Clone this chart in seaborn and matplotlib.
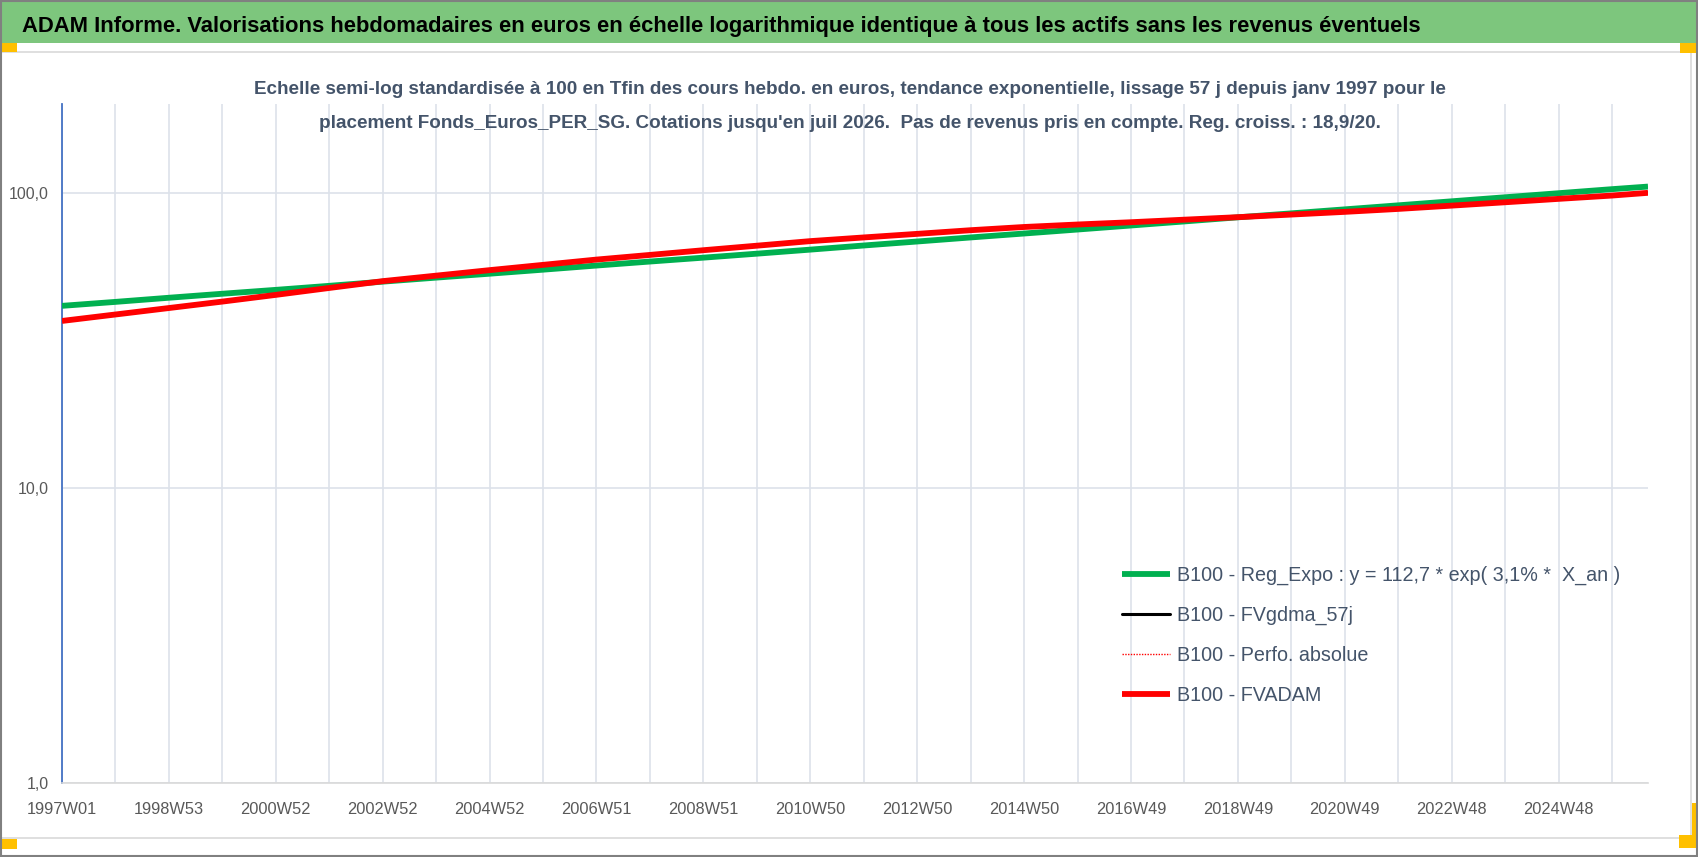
import matplotlib
matplotlib.use("Agg")
import matplotlib.pyplot as plt
import seaborn as sns
import pandas as pd
from matplotlib.patches import Rectangle
from matplotlib.lines import Line2D
from matplotlib.ticker import FixedLocator, FixedFormatter, NullFormatter

# ---------------- data ----------------
weeks = list(range(0, 1509, 52)) + [1543]          # weeks since 1997W01 (yearly samples + last quote)
reg_expo = [41.4, 42.7, 44.1, 45.5, 46.9, 48.4, 50.0, 51.6, 53.2, 54.9, 56.7, 58.5,
            60.3, 62.2, 64.2, 66.3, 68.4, 70.6, 72.8, 75.1, 77.5, 80.0, 82.6, 85.2,
            87.9, 90.7, 93.6, 96.6, 99.7, 102.9, 105.0]
fvadam = [36.8, 38.7, 40.7, 42.8, 45.1, 47.6, 50.2, 52.4, 54.7, 57.0, 59.4, 61.6,
          63.9, 66.2, 68.6, 70.6, 72.6, 74.7, 76.6, 78.1, 79.5, 81.1, 82.7, 84.4,
          86.2, 88.2, 90.5, 92.9, 95.4, 97.9, 100.0]
fvgdma_57j = [36.8, 38.7, 40.7, 42.8, 45.1, 47.6, 50.2, 52.4, 54.7, 57.0, 59.4, 61.6,
              63.9, 66.2, 68.6, 70.6, 72.6, 74.7, 76.6, 78.1, 79.5, 81.1, 82.7, 84.4,
              86.2, 88.2, 90.5, 92.9, 95.4, 97.9, 100.0]
perfo_absolue = [36.8, 38.7, 40.7, 42.8, 45.1, 47.6, 50.2, 52.4, 54.7, 57.0, 59.4, 61.6,
                 63.9, 66.2, 68.6, 70.6, 72.6, 74.7, 76.6, 78.1, 79.5, 81.1, 82.7, 84.4,
                 86.2, 88.2, 90.5, 92.9, 95.4, 97.9, 100.0]

series_names = ["B100 - Reg_Expo : y = 112,7 * exp( 3,1% *  X_an )",
                "B100 - FVgdma_57j",
                "B100 - Perfo. absolue",
                "B100 - FVADAM"]

tick_weeks = [0, 104, 208, 312, 416, 520, 624, 728, 832, 936, 1040, 1144, 1248, 1352, 1456]
tick_labels = ["1997W01", "1998W53", "2000W52", "2002W52", "2004W52", "2006W51", "2008W51",
               "2010W50", "2012W50", "2014W50", "2016W49", "2018W49", "2020W49", "2022W48",
               "2024W48"]
grid_weeks = list(range(52, 1509, 104))
y_ticks = [1, 10, 100]
y_labels = ["1,0", "10,0", "100,0"]

title = ("ADAM Informe. Valorisations hebdomadaires en euros en échelle logarithmique "
         "identique à tous les actifs sans les revenus éventuels")
subtitle1 = ("Echelle semi-log standardisée à 100 en Tfin des cours hebdo. en euros, tendance "
             "exponentielle, lissage 57 j depuis janv 1997 pour le")
subtitle2 = ("placement Fonds_Euros_PER_SG. Cotations jusqu'en juil 2026.  Pas de revenus pris "
             "en compte. Reg. croiss. : 18,9/20.")

df = pd.DataFrame({"week": weeks, "reg": reg_expo, "fvadam": fvadam,
                   "fvgdma": fvgdma_57j, "perfo": perfo_absolue})

# ---------------- style ----------------
sns.set_theme(style="white")
plt.rcParams["font.family"] = ["Liberation Sans", "DejaVu Sans"]

W, H = 1698, 857
fig = plt.figure(figsize=(W / 100, H / 100), dpi=100)
fig.patch.set_facecolor("white")

# decorations (chart frame like the Excel export)
fig.add_artist(Rectangle((0, 1 - 43 / H), 1, 43 / H, transform=fig.transFigure,
                         facecolor="#7DC67D", edgecolor="none", zorder=0))
fig.add_artist(Line2D([0, 1691 / W], [1 - 51.5 / H] * 2, transform=fig.transFigure,
                      color="#D9D9D9", lw=1.2))
fig.add_artist(Line2D([0, 1691 / W], [1 - 838 / H] * 2, transform=fig.transFigure,
                      color="#D9D9D9", lw=1.2))
fig.add_artist(Line2D([1691 / W] * 2, [1 - 51.5 / H, 1 - 838 / H], transform=fig.transFigure,
                      color="#D9D9D9", lw=1.2))
orange = "#FFC000"
for (x0, y0, w, h) in [(0, 43, 17, 9), (1680, 43, 18, 10), (1692, 803, 5, 45),
                       (1679, 835, 18, 13), (0, 839, 17, 10)]:
    fig.add_artist(Rectangle((x0 / W, 1 - (y0 + h) / H), w / W, h / H,
                             transform=fig.transFigure, facecolor=orange,
                             edgecolor="none", zorder=5))
fig.add_artist(Rectangle((0.0005, 0.001), 0.999, 0.998, transform=fig.transFigure,
                         facecolor="none", edgecolor="#808080", lw=1.5, zorder=6))

fig.text(22 / W, 1 - 32 / H, title, fontsize=15.8, fontweight="bold", color="black",
         ha="left", va="baseline")
fig.text(850 / W, 1 - 94 / H, subtitle1, fontsize=13.6, fontweight="bold", color="#44546A",
         ha="center", va="baseline")
fig.text(850 / W, 1 - 128 / H, subtitle2, fontsize=13.6, fontweight="bold", color="#44546A",
         ha="center", va="baseline")

# ---------------- axes ----------------
ax = fig.add_axes([62 / W, 1 - 783 / H, (1648 - 62) / W, (783 - 104) / H])
ax.set_facecolor("white")

lw_main = 4.2
sns.lineplot(data=df, x="week", y="reg", ax=ax, color="#00B050", lw=lw_main,
             label=series_names[0], solid_capstyle="butt", zorder=3)
sns.lineplot(data=df, x="week", y="fvgdma", ax=ax, color="black", lw=2.2,
             label=series_names[1], zorder=2)
sns.lineplot(data=df, x="week", y="perfo", ax=ax, color="#FF0000", lw=1.0,
             linestyle=(0, (1, 1)), label=series_names[2], zorder=2)
sns.lineplot(data=df, x="week", y="fvadam", ax=ax, color="#FF0000", lw=lw_main,
             label=series_names[3], solid_capstyle="butt", zorder=4)

ax.set_yscale("log")
ax.set_ylim(1, 200)
ax.set_xlim(0, 1543)
ax.yaxis.set_major_locator(FixedLocator(y_ticks))
ax.yaxis.set_major_formatter(FixedFormatter(y_labels))
ax.yaxis.set_minor_locator(FixedLocator([]))
ax.xaxis.set_major_locator(FixedLocator(tick_weeks))
ax.xaxis.set_major_formatter(FixedFormatter(tick_labels))
ax.xaxis.set_minor_locator(FixedLocator(grid_weeks))
ax.xaxis.set_minor_formatter(NullFormatter())

ax.grid(True, which="major", axis="both", color="#DDE2EA", lw=1.2)
ax.grid(True, which="minor", axis="x", color="#DDE2EA", lw=1.2)
ax.set_axisbelow(True)

ax.tick_params(axis="x", which="both", direction="out", length=5, width=1.2,
               color="#D9D9D9", pad=8.5, labelsize=11.8, labelcolor="#595959")
ax.tick_params(axis="y", which="both", length=0, pad=9.5, labelsize=11.5,
               labelcolor="#595959")
ax.set_xlabel("")
ax.set_ylabel("")

for s in ["top", "right"]:
    ax.spines[s].set_visible(False)
ax.spines["left"].set_color("#4472C4")
ax.spines["left"].set_linewidth(1.3)
ax.spines["bottom"].set_color("#D9D9D9")
ax.spines["bottom"].set_linewidth(1.2)

leg = ax.legend(loc="upper left", bbox_to_anchor=((1122 - 62) / 1586, (783 - 566) / 679),
                frameon=False, fontsize=14.2, handlelength=2.45, handletextpad=0.35,
                labelspacing=1.05, borderpad=0, borderaxespad=0)
for t in leg.get_texts():
    t.set_color("#44546A")

fig.savefig("out.png", dpi=100)
